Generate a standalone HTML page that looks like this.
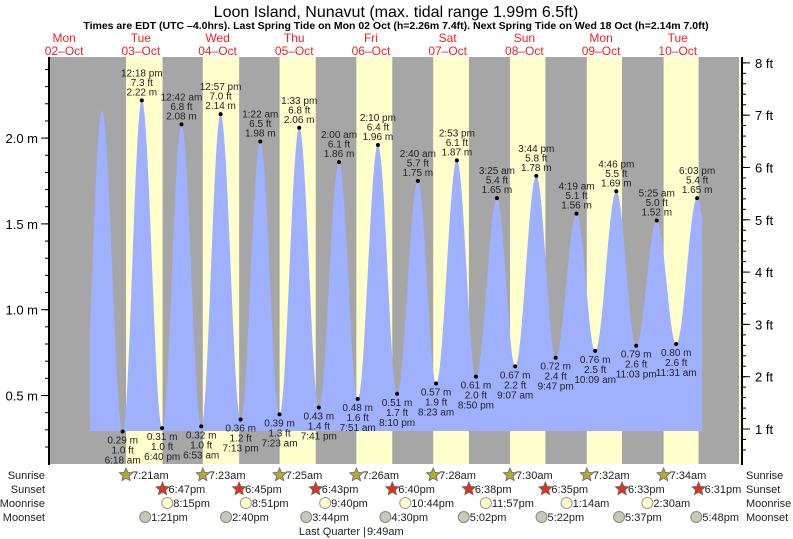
<!DOCTYPE html>
<html><head><meta charset="utf-8"><style>
html,body{margin:0;padding:0;background:#fff}
svg{display:block;font-family:"Liberation Sans",Arial,sans-serif}
</style></head><body>
<svg id="c" width="793" height="539" viewBox="0 0 793 539">
<text x="396" y="17" text-anchor="middle" font-size="16" fill="#000">Loon Island, Nunavut (max. tidal range 1.99m 6.5ft)</text>
<text x="396" y="29" text-anchor="middle" font-size="10.5" font-weight="bold" fill="#000">Times are EDT (UTC –4.0hrs). Last Spring Tide on Mon 02 Oct (h=2.26m 7.4ft). Next Spring Tide on Wed 18 Oct (h=2.14m 7.0ft)</text>
<g id="days"></g>
<rect x="49" y="57" width="693" height="407" fill="#a6a6a6"/>
<g id="bands"></g>
<path id="tide" fill="#9fb0ff"/>
<g id="ext"></g>
<g id="axes"></g>
<g id="astro"></g>
</svg>
<script>
// hours since Mon 02-Oct 00:00
const dayNames=["Mon","Tue","Wed","Thu","Fri","Sat","Sun","Mon","Tue"];
const dayDates=["02–Oct","03–Oct","04–Oct","05–Oct","06–Oct","07–Oct","08–Oct","09–Oct","10–Oct"];
const sunriseTimes=["7:21am","7:23am","7:25am","7:26am","7:28am","7:30am","7:32am","7:34am"];
const sunriseHours=[7.35,7.383,7.417,7.433,7.467,7.5,7.533,7.567];
const sunsetTimes=["6:47pm","6:45pm","6:43pm","6:40pm","6:38pm","6:35pm","6:33pm","6:31pm"];
const sunsetHours=[18.783,18.75,18.717,18.667,18.633,18.583,18.55,18.517];
const moonriseTimes=["8:15pm","8:51pm","9:40pm","10:44pm","11:57pm","1:14am","2:30am"];
const moonriseT=[44.25,68.85,93.667,118.733,143.95,169.233,194.5];
const moonsetTimes=["1:21pm","2:40pm","3:44pm","4:30pm","5:02pm","5:22pm","5:37pm","5:48pm"];
const moonsetT=[37.35,62.667,87.733,112.5,137.033,161.367,185.617,209.8];
const extT=[17.7,23.83,30.3,36.3,42.667,48.7,54.883,60.95,67.217,73.367,79.383,85.55,91.683,98,103.85,110.167,116.167,122.667,128.383,134.883,140.833,147.417,153.117,159.733,165.783,172.317,178.15,184.767,190.983,197.417,203.517,210.05,216.3];
const extH=[0.28,2.16,0.29,2.22,0.31,2.08,0.32,2.14,0.36,1.98,0.39,2.06,0.43,1.86,0.48,1.96,0.51,1.75,0.57,1.87,0.61,1.65,0.67,1.78,0.72,1.56,0.76,1.69,0.79,1.52,0.80,1.65,0.80];
const extFt=["","","1.0","7.3","1.0","6.8","1.0","7.0","1.2","6.5","1.3","6.8","1.4","6.1","1.6","6.4","1.7","5.7","1.9","6.1","2.0","5.4","2.2","5.8","2.4","5.1","2.5","5.5","2.6","5.0","2.6","5.4",""];
const extTime=["","","6:18 am","12:18 pm","6:40 pm","12:42 am","6:53 am","12:57 pm","7:13 pm","1:22 am","7:23 am","1:33 pm","7:41 pm","2:00 am","7:51 am","2:10 pm","8:10 pm","2:40 am","8:23 am","2:53 pm","8:50 pm","3:25 am","9:07 am","3:44 pm","9:47 pm","4:19 am","10:09 am","4:46 pm","11:03 pm","5:25 am","11:31 am","6:03 pm",""];
const mTicks=[0.5,1.0,1.5,2.0];
const ftTicks=[1,2,3,4,5,6,7,8];
const tStart=20.1,tEnd=211.6;

const NS="http://www.w3.org/2000/svg";
const X=t=>25.8+t*3.196;
const Y=h=>481.3-171.6*h;
function mk(tag,attrs,parent,txt){const e=document.createElementNS(NS,tag);for(const k in attrs)e.setAttribute(k,attrs[k]);if(txt!==undefined)e.textContent=txt;parent.appendChild(e);return e;}
const $=id=>document.getElementById(id);

dayNames.forEach((d,i)=>{
  const x=X(12+24*i);
  const t1=mk('text',{x:x,y:42,'text-anchor':'middle','font-size':12,fill:'#ee2222'},$('days'),d);
  
  
  const t2=mk('text',{x:x,y:55,'text-anchor':'middle','font-size':12,fill:'#ee2222'},$('days'),dayDates[i]);
  
  
});
sunriseHours.forEach((s,i)=>{
  const x1=X(24*(i+1)+s),x2=X(24*(i+1)+sunsetHours[i]);
  const r=mk('rect',{x:x1,y:57,width:x2-x1,height:407,fill:'#ffffcc'},$('bands'));
  
  
});
const rs=mk('rect',{x:739,y:57,width:3,height:407,fill:'#ffffcc'},$('bands'));



function hAt(t){
  for(let i=0;i<extT.length-1;i++){
    if(t>=extT[i]&&t<=extT[i+1]){
      const f=(t-extT[i])/(extT[i+1]-extT[i]);
      return extH[i]+(extH[i+1]-extH[i])*(1-Math.cos(Math.PI*f))/2;
    }
  }
  return extH[extH.length-1];
}
const base=431;
let d=`M${X(tStart)},${base}`;
for(let t=tStart;t<=tEnd;t+=0.1)d+=` L${X(t).toFixed(2)},${Y(hAt(t)).toFixed(2)}`;
d+=` L${X(tEnd)},${Y(hAt(tEnd))} L${X(tEnd)},${base} Z`;
$('tide').setAttribute('d',d);

extT.forEach((t,i)=>{
  if(!extTime[i])return;
  const x=X(t),y=Y(extH[i]);
  const dot=mk('circle',{cx:x,cy:y,r:2,fill:'#000'},$('ext'));
  
  
  const high=extH[i]>1.2;
  const lines=high?[extTime[i],extFt[i]+" ft",extH[i].toFixed(2)+" m"]:[extH[i].toFixed(2)+" m",extFt[i]+" ft",extTime[i]];
  lines.forEach((s,j)=>{
    const yy=high?y-5-(2-j)*9.5:y+12+j*10;
    const tx=mk('text',{x:x,y:yy,'text-anchor':'middle','font-size':10,fill:'#222'},$('ext'),s);
    
    
  });
});

const ax=$('axes');
mk('line',{x1:49,y1:57,x2:49,y2:465,stroke:'#000','stroke-width':2},ax);
mk('line',{x1:742,y1:57,x2:742,y2:465,stroke:'#000','stroke-width':2},ax);
for(let m=0.2;m<=2.45;m+=0.1){
  const y=Y(m);if(y<57||y>464)continue;
  mk('line',{x1:45,y1:y,x2:49,y2:y,stroke:'#000','stroke-width':1},ax);
}
mTicks.forEach(m=>{
  const y=Y(m);
  mk('line',{x1:41,y1:y,x2:49,y2:y,stroke:'#000','stroke-width':1},ax);
  const t=mk('text',{x:38,y:y+5,'text-anchor':'end','font-size':13,fill:'#000'},ax,m.toFixed(1)+" m");
  
  
});
for(let f=0.6;f<=8.05;f+=0.2){
  const y=Y(f*0.3048);if(y<57||y>464)continue;
  mk('line',{x1:742,y1:y,x2:746,y2:y,stroke:'#000','stroke-width':1},ax);
}
ftTicks.forEach(f=>{
  const y=Y(f*0.3048);
  mk('line',{x1:742,y1:y,x2:750,y2:y,stroke:'#000','stroke-width':1},ax);
  const t=mk('text',{x:755,y:y+5,'font-size':13,fill:'#000'},ax,f+" ft");
  
  
});

const as=$('astro');
const rows=[["Sunrise",475],["Sunset",489],["Moonrise",503],["Moonset",517]];
rows.forEach(r=>{
  const a=mk('text',{x:45,y:r[1]+4,'text-anchor':'end','font-size':11,fill:'#222'},as,r[0]);
  
  
  const b=mk('text',{x:746,y:r[1]+4,'font-size':11,fill:'#222'},as,r[0]);
  
  
});
function star(x,y,fill){
  let p="";
  for(let k=0;k<10;k++){const a=-Math.PI/2+k*Math.PI/5;const rr=k%2?3.2:7;p+=(k?"L":"M")+(x+rr*Math.cos(a)).toFixed(1)+","+(y+rr*Math.sin(a)).toFixed(1);}
  return mk('path',{d:p+"Z",fill:fill,stroke:'#665',"stroke-width":0.8},as);
}
function label(x,y,s,name){const t=mk('text',{x:x+6,y:y+4,'font-size':11,fill:'#222'},as,s);}
sunriseHours.forEach((h,i)=>{const x=X(24*(i+1)+h);const s=star(x,475,'#b4a838');label(x,475,sunriseTimes[i],'sunrise-time');});
sunsetHours.forEach((h,i)=>{const x=X(24*(i+1)+h);const s=star(x,489,'#dd3322');label(x,489,sunsetTimes[i],'sunset-time');});
moonriseT.forEach((t,i)=>{const x=X(t);const c=mk('circle',{cx:x,cy:503,r:5.5,fill:'#ffffcc',stroke:'#999'},as);label(x,503,moonriseTimes[i],'moonrise-time');});
moonsetT.forEach((t,i)=>{const x=X(t);const c=mk('circle',{cx:x,cy:517,r:5.5,fill:'#c8c8b4',stroke:'#888'},as);label(x,517,moonsetTimes[i],'moonset-time');});
const lq=X(105.817);
const lqt=mk('text',{x:lq+2,y:535,'text-anchor':'end','font-size':11,fill:'#222'},as,"Last Quarter |");


const lqt2=mk('text',{x:lq+3,y:535,'font-size':11,fill:'#222'},as,"9:49am");


</script>
</body></html>
